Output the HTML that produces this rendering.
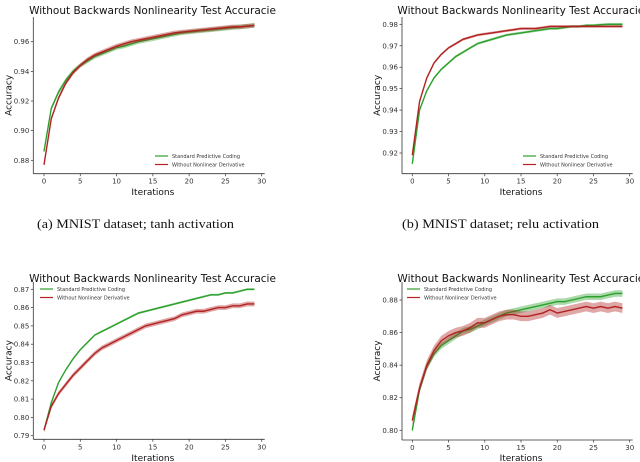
<!DOCTYPE html>
<html><head><meta charset="utf-8"><style>
body{margin:0;background:#fff;}
svg{display:block;font-family:"DejaVu Sans","Liberation Sans",sans-serif;}
</style></head><body>
<svg id="s" width="640" height="462" viewBox="0 0 640 462"></svg>
<script>
const iters=[...Array(30).keys()];
const aGreen=[0.886,0.915,0.926,0.934,0.940,0.944,0.947,0.950,0.952,0.954,0.956,0.957,0.9585,0.960,0.961,0.962,0.963,0.964,0.965,0.966,0.9665,0.967,0.9675,0.968,0.9685,0.969,0.9695,0.970,0.9705,0.971];
const aRed=[0.877,0.908,0.922,0.932,0.939,0.944,0.948,0.951,0.953,0.955,0.957,0.9585,0.960,0.961,0.962,0.963,0.964,0.965,0.966,0.9665,0.967,0.9675,0.968,0.9685,0.969,0.9695,0.970,0.970,0.9705,0.971];
const bGreen=[0.915,0.94,0.949,0.955,0.959,0.962,0.965,0.967,0.969,0.971,0.972,0.973,0.974,0.975,0.9755,0.976,0.9765,0.977,0.9775,0.978,0.978,0.9785,0.979,0.979,0.9795,0.9795,0.9798,0.98,0.98,0.98];
const bRed=[0.919,0.944,0.955,0.962,0.966,0.969,0.971,0.973,0.974,0.975,0.9755,0.976,0.9765,0.977,0.9775,0.978,0.978,0.978,0.9785,0.979,0.979,0.979,0.979,0.979,0.979,0.979,0.979,0.979,0.979,0.979];
const cGreen=[0.793,0.808,0.819,0.826,0.832,0.837,0.841,0.845,0.847,0.849,0.851,0.853,0.855,0.857,0.858,0.859,0.860,0.861,0.862,0.863,0.864,0.865,0.866,0.867,0.867,0.868,0.868,0.869,0.870,0.870];
const cRed=[0.793,0.806,0.813,0.818,0.823,0.827,0.831,0.835,0.838,0.840,0.842,0.844,0.846,0.848,0.850,0.851,0.852,0.853,0.854,0.856,0.857,0.858,0.858,0.859,0.860,0.860,0.861,0.861,0.862,0.862];
const dGreen=[0.800,0.825,0.839,0.847,0.852,0.855,0.858,0.861,0.862,0.864,0.866,0.868,0.870,0.872,0.873,0.874,0.875,0.876,0.877,0.878,0.879,0.879,0.880,0.881,0.882,0.882,0.882,0.883,0.884,0.884];
const dRed=[0.806,0.826,0.840,0.849,0.855,0.858,0.860,0.861,0.863,0.866,0.866,0.868,0.870,0.871,0.871,0.870,0.870,0.871,0.872,0.874,0.872,0.873,0.874,0.875,0.876,0.875,0.876,0.875,0.876,0.875];
const xTicks=[0,5,10,15,20,25,30];
const aYTicks=[0.88,0.90,0.92,0.94,0.96];
const bYTicks=[0.92,0.93,0.94,0.95,0.96,0.97,0.98];
const cYTicks=[0.79,0.80,0.81,0.82,0.83,0.84,0.85,0.86,0.87];
const dYTicks=[0.80,0.82,0.84,0.86,0.88];
const legendLabels=["Standard Predictive Coding","Without Nonlinear Derivative"];

const S=document.getElementById('s');const NS='http://www.w3.org/2000/svg';
function mk(t,a,p){const e=document.createElementNS(NS,t);for(const k in a)e.setAttribute(k,a[k]);(p||S).appendChild(e);return e;}
const panels=[
 {id:'a',g:aGreen,r:aRed,yt:aYTicks,x0:44,x1:261.7,v0:0.88,p0:160.3,v1:0.96,p1:41.7,ax:33.3,ay:173.7,top:17,ty:10,ly:192,leg:[155,156],gw:0.0015,rw:0.0015,cap:"(a) MNIST dataset; tanh activation",cx:37,cy:224},
 {id:'b',g:bGreen,r:bRed,yt:bYTicks,x0:412.3,x1:629.7,v0:0.92,p0:153,v1:0.98,p1:24.3,ax:402,ay:173.7,top:17,ty:10,ly:192,leg:[523,156],gw:0.0006,rw:0.0006,cap:"(b) MNIST dataset; relu activation",cx:402,cy:224},
 {id:'c',g:cGreen,r:cRed,yt:cYTicks,x0:44,x1:261.7,v0:0.79,p0:435.7,v1:0.87,p1:289.3,ax:33.3,ay:439.3,top:282,ty:278,ly:458,leg:[40,289],gw:0.0006,rw:0.0013,cap:null},
 {id:'d',g:dGreen,r:dRed,yt:dYTicks,x0:412.3,x1:629.7,v0:0.80,p0:430.3,v1:0.88,p1:300,ax:402,ay:440,top:282,ty:278,ly:458,leg:[407,289],gw:0.002,rw:0.003,cap:null}
];
panels.forEach(P=>{
 const X=v=>P.x0+(v-0)*(P.x1-P.x0)/30;
 const Y=v=>P.p0+(v-P.v0)*(P.p1-P.p0)/(P.v1-P.v0);
 const g=mk('g',{});
 
 
 const t=mk('text',{x:(P.ax+P.x1)/2+5,y:P.ty+4,'font-size':10.5,'text-anchor':'middle',fill:'#111'},g);t.textContent='Without Backwards Nonlinearity Test Accuracie';
 
 mk('line',{x1:P.ax,y1:P.top,x2:P.ax,y2:P.ay,stroke:'#333','stroke-width':0.8},g);
 mk('line',{x1:P.ax,y1:P.ay,x2:P.x1+3,y2:P.ay,stroke:'#333','stroke-width':0.8},g);
 xTicks.forEach(v=>{mk('line',{x1:X(v),y1:P.ay,x2:X(v),y2:P.ay+2.5,stroke:'#333','stroke-width':0.7},g);
  const l=mk('text',{x:X(v),y:P.ay+10,'font-size':7,'text-anchor':'middle',fill:'#333'},g);l.textContent=v;
  });
 P.yt.forEach(v=>{mk('line',{x1:P.ax-2.5,y1:Y(v),x2:P.ax,y2:Y(v),stroke:'#333','stroke-width':0.7},g);
  const l=mk('text',{x:P.ax-4,y:Y(v)+2.5,'font-size':7,'text-anchor':'end',fill:'#333'},g);l.textContent=v.toFixed(2);
  });
 const xl=mk('text',{x:(P.x0+P.x1)/2,y:P.ly+3,'font-size':9,'text-anchor':'middle',fill:'#111'},g);xl.textContent='Iterations';
 
 const yc=(P.top+P.ay)/2;const yl=mk('text',{x:P.ax-22,y:yc,'font-size':9,'text-anchor':'middle',fill:'#111',transform:`rotate(-90 ${P.ax-22} ${yc})`},g);yl.textContent='Accuracy';
 
 [[P.g,'#2ca02c',P.gw,'green'],[P.r,'#b22222',P.rw,'red']].forEach(([d,c,w,n])=>{
  const up=d.map((v,i)=>X(iters[i])+','+Y(v+w)).join(' ');
  const dn=d.map((v,i)=>X(iters[i])+','+Y(v-w)).reverse().join(' ');
  const b=mk('polygon',{points:up+' '+dn,fill:c,'fill-opacity':0.4},g);
  
  const l=mk('polyline',{points:d.map((v,i)=>X(iters[i])+','+Y(v)).join(' '),fill:'none',stroke:c,'stroke-width':1.4},g);
  
 });
 legendLabels.forEach((s,i)=>{const yy=P.leg[1]+i*8.5;
  mk('line',{x1:P.leg[0],y1:yy,x2:P.leg[0]+13,y2:yy,stroke:i?'#b22222':'#2ca02c','stroke-width':1.2},g);
  const l=mk('text',{x:P.leg[0]+17,y:yy+2,'font-size':5,fill:'#333'},g);l.textContent=s;
  });
 if(P.cap){const c=mk('text',{x:P.cx,y:P.cy+4,'font-size':12.5,fill:'#111','font-family':'"Liberation Serif",serif',textLength:197,lengthAdjust:'spacingAndGlyphs'},S);c.textContent=P.cap;
  }
});
</script>
</body></html>
